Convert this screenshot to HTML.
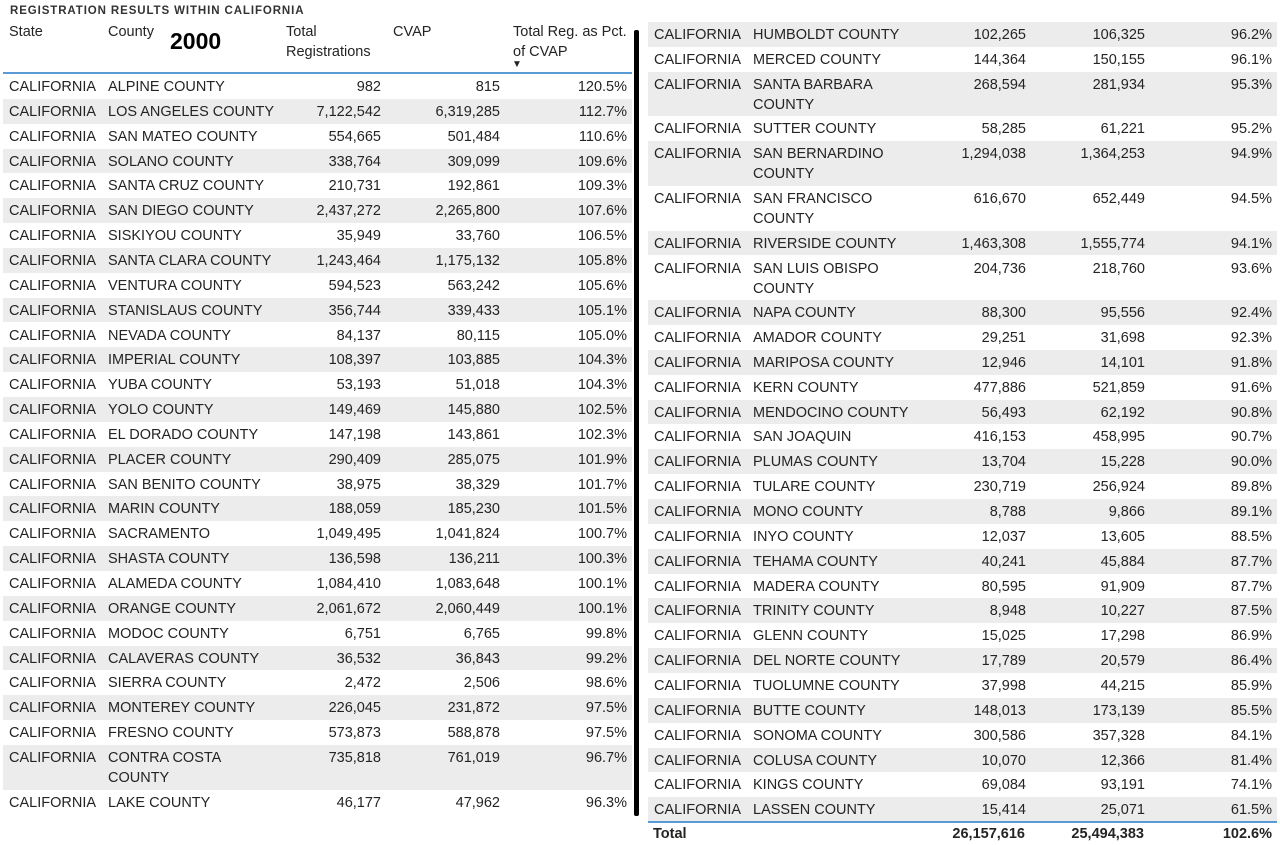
<!DOCTYPE html>
<html><head><meta charset="utf-8"><style>
body{margin:0;width:1280px;height:845px;background:#fff;position:relative;overflow:hidden;font-family:"Liberation Sans",sans-serif;color:#252423}
.a{position:absolute;white-space:nowrap}
.c{font-size:14.5px;line-height:20px}
.r{text-align:right}
.row{position:absolute}
</style></head><body>
<div class="a" style="left:10px;top:5px;font-size:11.5px;font-weight:bold;letter-spacing:0.9px;color:#333">REGISTRATION RESULTS WITHIN CALIFORNIA</div>
<div class="a c" style="left:9px;top:22px">State</div>
<div class="a c" style="left:108px;top:22px">County</div>
<div class="a" style="left:170px;top:28px;font-size:23px;font-weight:bold;color:#000">2000</div>
<div class="a c" style="left:286px;top:22px">Total<br>Registrations</div>
<div class="a c" style="left:393px;top:22px">CVAP</div>
<div class="a c" style="left:513px;top:22px">Total Reg. as Pct.<br>of CVAP</div>
<div class="a" style="left:512px;top:59px;font-size:10px;color:#222">▼</div>
<div class="a" style="left:3px;top:72px;width:629px;height:1.5px;background:#5b9bd5"></div>
<div class="a" style="left:634px;top:30px;width:5px;height:786px;background:#000;border-radius:2px"></div>
<div id="t"></div>
<div class="a" style="left:648px;top:821px;width:629px;height:1.5px;background:#5b9bd5"></div>
<div class="a c" style="left:653px;top:824px;font-weight:bold">Total</div>
<div class="a c r" style="left:900px;width:125px;top:824px;font-weight:bold">26,157,616</div>
<div class="a c r" style="left:1020px;width:124px;top:824px;font-weight:bold">25,494,383</div>
<div class="a c r" style="left:1150px;width:122px;top:824px;font-weight:bold">102.6%</div>
<script>
const counties=["ALPINE COUNTY","LOS ANGELES COUNTY","SAN MATEO COUNTY","SOLANO COUNTY","SANTA CRUZ COUNTY","SAN DIEGO COUNTY","SISKIYOU COUNTY","SANTA CLARA COUNTY","VENTURA COUNTY","STANISLAUS COUNTY","NEVADA COUNTY","IMPERIAL COUNTY","YUBA COUNTY","YOLO COUNTY","EL DORADO COUNTY","PLACER COUNTY","SAN BENITO COUNTY","MARIN COUNTY","SACRAMENTO","SHASTA COUNTY","ALAMEDA COUNTY","ORANGE COUNTY","MODOC COUNTY","CALAVERAS COUNTY","SIERRA COUNTY","MONTEREY COUNTY","FRESNO COUNTY","CONTRA COSTA|COUNTY","LAKE COUNTY",
"HUMBOLDT COUNTY","MERCED COUNTY","SANTA BARBARA|COUNTY","SUTTER COUNTY","SAN BERNARDINO|COUNTY","SAN FRANCISCO|COUNTY","RIVERSIDE COUNTY","SAN LUIS OBISPO|COUNTY","NAPA COUNTY","AMADOR COUNTY","MARIPOSA COUNTY","KERN COUNTY","MENDOCINO COUNTY","SAN JOAQUIN","PLUMAS COUNTY","TULARE COUNTY","MONO COUNTY","INYO COUNTY","TEHAMA COUNTY","MADERA COUNTY","TRINITY COUNTY","GLENN COUNTY","DEL NORTE COUNTY","TUOLUMNE COUNTY","BUTTE COUNTY","SONOMA COUNTY","COLUSA COUNTY","KINGS COUNTY","LASSEN COUNTY"];
const registrations=["982","7,122,542","554,665","338,764","210,731","2,437,272","35,949","1,243,464","594,523","356,744","84,137","108,397","53,193","149,469","147,198","290,409","38,975","188,059","1,049,495","136,598","1,084,410","2,061,672","6,751","36,532","2,472","226,045","573,873","735,818","46,177",
"102,265","144,364","268,594","58,285","1,294,038","616,670","1,463,308","204,736","88,300","29,251","12,946","477,886","56,493","416,153","13,704","230,719","8,788","12,037","40,241","80,595","8,948","15,025","17,789","37,998","148,013","300,586","10,070","69,084","15,414"];
const cvap=["815","6,319,285","501,484","309,099","192,861","2,265,800","33,760","1,175,132","563,242","339,433","80,115","103,885","51,018","145,880","143,861","285,075","38,329","185,230","1,041,824","136,211","1,083,648","2,060,449","6,765","36,843","2,506","231,872","588,878","761,019","47,962",
"106,325","150,155","281,934","61,221","1,364,253","652,449","1,555,774","218,760","95,556","31,698","14,101","521,859","62,192","458,995","15,228","256,924","9,866","13,605","45,884","91,909","10,227","17,298","20,579","44,215","173,139","357,328","12,366","93,191","25,071"];
const pcts=["120.5%","112.7%","110.6%","109.6%","109.3%","107.6%","106.5%","105.8%","105.6%","105.1%","105.0%","104.3%","104.3%","102.5%","102.3%","101.9%","101.7%","101.5%","100.7%","100.3%","100.1%","100.1%","99.8%","99.2%","98.6%","97.5%","97.5%","96.7%","96.3%",
"96.2%","96.1%","95.3%","95.2%","94.9%","94.5%","94.1%","93.6%","92.4%","92.3%","91.8%","91.6%","90.8%","90.7%","90.0%","89.8%","89.1%","88.5%","87.7%","87.7%","87.5%","86.9%","86.4%","85.9%","85.5%","84.1%","81.4%","74.1%","61.5%"];
const T=document.getElementById('t');
let y=74,x0=3,half=29;
counties.forEach((c,i)=>{
  if(i===half){y=22;x0=648;}
  const two=c.includes('|');
  const h=two?44.7:24.85;
  const row=document.createElement('div');
  row.className='row';
  
  
  row.style.cssText=`left:${x0}px;top:${y}px;width:629px;height:${h}px;background:${i%2?'#ececec':'#fff'}`;
  const cells=[["CALIFORNIA",6,null],[c.replace('|','<br>'),105,null],[registrations[i],280,378],[cvap[i],400,497],[pcts[i],520,624]];
  const names=['state-cell','county-cell','registrations-cell','cvap-cell','pct-cell'];
  cells.forEach((d,j)=>{
    const e=document.createElement('div');
    e.className='a c'+(d[2]?' r':'');
    
    
    e.style.top='3px';
    if(d[2]){e.style.left=(d[2]-120)+'px';e.style.width='120px';}else e.style.left=d[1]+'px';
    e.innerHTML=d[0];
    row.appendChild(e);
  });
  T.appendChild(row);
  y+=h;
});
</script>
</body></html>
